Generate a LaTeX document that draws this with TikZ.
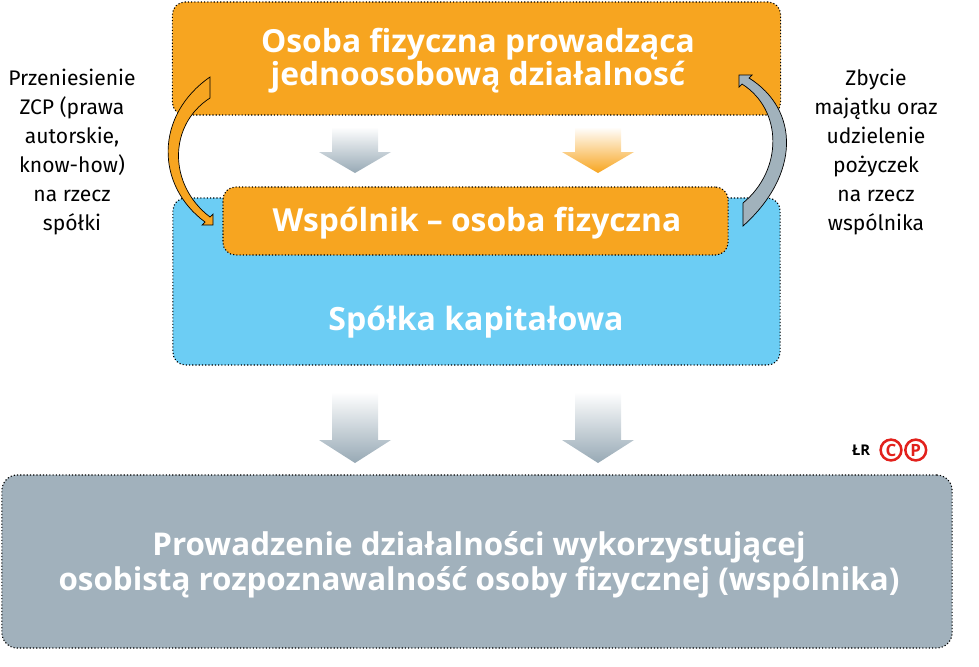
\documentclass[tikz,border=0pt]{standalone}
\usepackage{fontspec}
\setmainfont{Fira Sans}
\newfontfamily\headfont{Open Sans}
\usetikzlibrary{positioning}

\definecolor{boxorange}{HTML}{F7A520}
\definecolor{boxblue}{HTML}{6CCDF4}
\definecolor{boxgray}{HTML}{A1B1BC}
\definecolor{arrgray}{HTML}{97A9B5}
\definecolor{logored}{HTML}{E2211C}

\begin{document}
\begin{tikzpicture}[
    x=0.025cm, y=-0.025cm,
    box/.style={draw, dash pattern=on 0.8pt off 1.5pt, line width=0.8pt,
                rounded corners=9pt, inner sep=0pt},
    title/.style={text=white, align=center,
                  font=\headfont\fontsize{22.6}{23.5}\selectfont\bfseries},
    side/.style={align=center, font=\fontsize{15}{20.6}\selectfont},
    curved/.style={draw=black, line width=0.5pt},
    logo/.style={circle, draw=logored, line width=1.8pt, minimum size=0.52cm,
                 inner sep=0pt, text=logored,
                 font=\headfont\fontsize{12}{12}\selectfont\bfseries},
]
\useasboundingbox (0,0) rectangle (979,666);

% Boxes
\node[box, fill=boxorange, minimum width=15.2cm, minimum height=2.825cm]
      (osoba) at (476.5,58.5) {};
\node[title] (osobatxt) at (478,61)
      {Osoba fizyczna prowadząca\\jednoosobową działalnosć};

\node[box, fill=boxblue, minimum width=15.175cm, minimum height=4.175cm]
      (spolka) at (476.5,281.5) {};
\node[title, font=\headfont\fontsize{22.8}{24}\selectfont\bfseries]
      (spolkatxt) at (476,322) {Spółka kapitałowa};

\node[box, fill=boxorange, minimum width=12.625cm, minimum height=1.7cm]
      (wspolnik) at (475.5,221) {};
\node[title] (wspolniktxt) at (477,223) {Wspólnik – osoba fizyczna};

\node[box, fill=boxgray, rounded corners=11pt,
      minimum width=23.75cm, minimum height=4.325cm]
      (prowadzenie) at (477,561.5) {};
\node[title, font=\headfont\fontsize{22.3}{24.9}\selectfont\bfseries]
      (prowadzenietxt) at (479,565)
      {Prowadzenie działalności wykorzystującej\\osobistą rozpoznawalność osoby fizycznej (wspólnika)};

% Side texts
\node[side] (przeniesienie) at (72,152)
      {Przeniesienie\\ZCP (prawa\\autorskie,\\know-how)\\na rzecz\\spółki};
\node[side] (zbycie) at (876,152)
      {Zbycie\\majątku oraz\\udzielenie\\pożyczek\\na rzecz\\wspólnika};

% Block arrows
\foreach \cx/\ytop/\ybase/\ytip/\col in
    {355/127/152/173/arrgray, 598/127/152/173/boxorange,
     355/392/440/463/arrgray, 598/392/440/463/arrgray}
  \shade[top color=white, bottom color=\col]
    (\cx-23,\ytop) -- (\cx+23,\ytop) -- (\cx+23,\ybase) -- (\cx+36,\ybase)
    -- (\cx,\ytip) -- (\cx-36,\ybase) -- (\cx-23,\ybase) -- cycle;

% Curved arrows
\filldraw[curved, fill=boxorange]
    (210,77) .. controls (155,115) and (155,185) .. (205,222)
    -- (202,225) -- (213,225) -- (213,214) -- (210,217)
    .. controls (168,185) and (168,125) .. (210,98) -- cycle;
\filldraw[curved, fill=arrgray!90!white]
    (743,226) .. controls (800,175) and (800,110) .. (749,78)
    -- (752,75) -- (739,75) -- (739,87) -- (742,84)
    .. controls (783,110) and (783,170) .. (743,203) -- cycle;

% Logo
\node[logo] (logoc) at (891,450) {C};
\node[logo, right=1pt of logoc] (logop) {P};
\node[font=\headfont\fontsize{10.5}{10.5}\selectfont\bfseries, left=3pt of logoc]
      (lr) {ŁR};

\end{tikzpicture}
\end{document}
